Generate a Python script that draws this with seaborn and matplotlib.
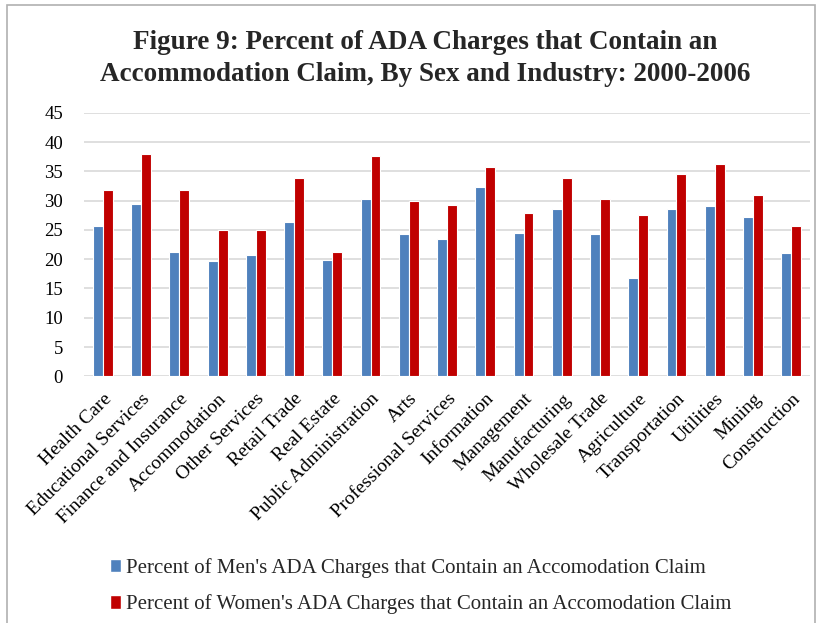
import matplotlib
matplotlib.use("Agg")
import matplotlib.pyplot as plt
import seaborn as sns
import pandas as pd
from matplotlib.patches import Rectangle, Patch

industries = ["Health Care", "Educational Services", "Finance and Insurance", "Accommodation",
              "Other Services", "Retail Trade", "Real Estate", "Public Administration", "Arts",
              "Professional Services", "Information", "Management", "Manufacturing",
              "Wholesale Trade", "Agriculture", "Transportation", "Utilities", "Mining",
              "Construction"]
men = [25.6, 29.5, 21.2, 19.7, 20.7, 26.4, 19.9, 30.3, 24.3, 23.5, 32.4, 24.5, 28.6, 24.3,
       16.8, 28.6, 29.0, 27.2, 21.1]
women = [31.8, 38.0, 31.8, 24.9, 24.9, 33.9, 21.2, 37.6, 29.9, 29.3, 35.8, 27.8, 33.9, 30.3,
         27.6, 34.5, 36.2, 31.0, 25.6]
series_names = ["Percent of Men's ADA Charges that Contain an Accomodation Claim",
                "Percent of Women's ADA Charges that Contain an Accomodation Claim"]
yticks = [0, 5, 10, 15, 20, 25, 30, 35, 40, 45]

df = pd.DataFrame({
    "Industry": industries * 2,
    "Value": men + women,
    "Series": [series_names[0]] * len(industries) + [series_names[1]] * len(industries),
})

sns.set_theme(style="white")
plt.rcParams["font.family"] = ["Liberation Serif", "DejaVu Serif"]

colors = ["#4F81BD", "#C00000"]
fig = plt.figure(figsize=(8.21, 6.23), dpi=100)
ax = fig.add_axes([0.102, 0.396, 0.885, 0.423])

sns.barplot(data=df, x="Industry", y="Value", hue="Series", palette=colors, width=0.52,
            saturation=1, edgecolor="white", linewidth=0.8, ax=ax, legend=False, zorder=3)

ax.set_ylim(0, 45)
ax.set_yticks(yticks)
ax.set_yticklabels([str(t) for t in yticks], fontsize=13.5)
ax.set_xlim(-0.5, len(industries) - 0.5)
ax.yaxis.grid(True, color="#d9d9d9", linewidth=1.2, zorder=0)
ax.set_axisbelow(True)
for s in ax.spines.values():
    s.set_visible(False)
ax.tick_params(axis="x", length=0, pad=10, colors="black")
ax.tick_params(axis="y", length=0, pad=15, colors="black")
ax.set_xlabel("")
ax.set_ylabel("")
ax.set_xticks(range(len(industries)))
ax.set_xticklabels(industries, rotation=45, ha="right", rotation_mode="anchor", fontsize=14)

fig.text(0.518, 0.906, "Figure 9: Percent of ADA Charges that Contain an\nAccommodation Claim, By Sex and Industry: 2000-2006",
         ha="center", va="center", fontsize=19.5, fontweight="bold", linespacing=1.38)

handles = [Patch(facecolor=colors[0]), Patch(facecolor=colors[1])]
fig.legend(handles, series_names, loc="upper left", bbox_to_anchor=(0.124, 0.118),
           frameon=False, fontsize=15, handlelength=0.5, handleheight=0.6,
           handletextpad=0.25, labelspacing=0.8, borderaxespad=0)

fig.patches.append(Rectangle((0.008, -0.01), 0.985, 1.002, transform=fig.transFigure,
                             fill=False, edgecolor="#b0b0b0", linewidth=1.2))

fig.savefig("out.png", dpi=100)
